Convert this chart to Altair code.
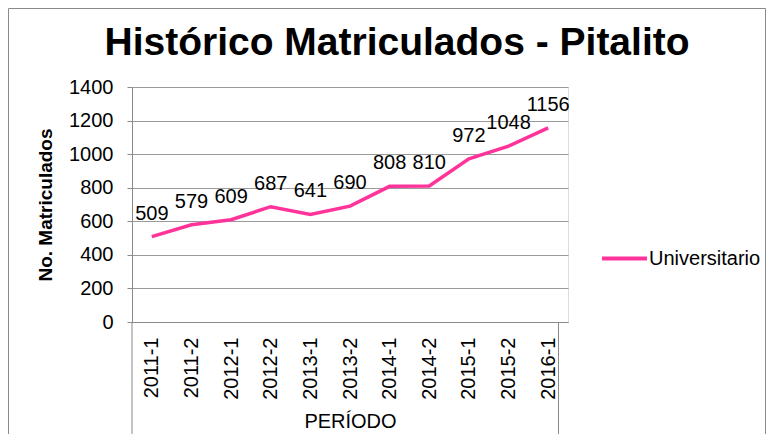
import altair as alt
import pandas as pd

periodos = ["2011-1", "2011-2", "2012-1", "2012-2", "2013-1", "2013-2",
            "2014-1", "2014-2", "2015-1", "2015-2", "2016-1"]
matriculados = [509, 579, 609, 687, 641, 690, 808, 810, 972, 1048, 1156]
serie = ["Universitario"] * len(periodos)
y_ticks = [0, 200, 400, 600, 800, 1000, 1200, 1400]
titulo = "Histórico Matriculados - Pitalito"

df = pd.DataFrame({"periodo": periodos, "valor": matriculados, "serie": serie})
one = pd.DataFrame({"k": [0]})

FONT = "Liberation Sans"
PINK = "#FF3399"
GRID = "#9a9a9a"
FRAME = "#8a8a8a"

x_enc = alt.X(
    "periodo:N", sort=periodos, title="PERÍODO",
    axis=alt.Axis(labelAngle=270, ticks=False, labelPadding=15, domainColor=FRAME,
                  labelFont=FONT, labelFontSize=20, labelColor="black",
                  labelOverlap=False,
                  titleFont=FONT, titleFontSize=20, titleFontWeight="normal",
                  titleColor="black", titlePadding=12, grid=False),
)
y_enc = alt.Y(
    "valor:Q", title="No. Matriculados",
    scale=alt.Scale(domain=[0, 1400], nice=False),
    axis=alt.Axis(values=y_ticks, format="d", labelOverlap=False,
                  grid=True, gridColor=GRID, domainColor=FRAME,
                  tickColor=FRAME, tickSize=5, labelPadding=14,
                  labelFont=FONT, labelFontSize=20, labelColor="black",
                  titleFont=FONT, titleFontSize=19, titleFontWeight="bold",
                  titleColor="black", titlePadding=13),
)

base = alt.Chart(df)

line = base.mark_line(strokeWidth=3.5).encode(
    x=x_enc, y=y_enc,
    color=alt.Color(
        "serie:N",
        scale=alt.Scale(domain=["Universitario"], range=[PINK]),
        legend=alt.Legend(orient="none", legendX=468, legendY=147, title=None,
                          symbolType="stroke", symbolSize=2025, symbolStrokeWidth=4,
                          labelFont=FONT, labelFontSize=20, labelColor="black",
                          labelOffset=0, padding=0),
    ),
)

labels = base.mark_text(font=FONT, fontSize=20, color="black", dy=-17,
                        baseline="alphabetic", align="center").encode(
    x=x_enc, y=y_enc, text="valor:Q"
)

title_mark = alt.Chart(one).mark_text(
    font=FONT, fontSize=39, fontWeight="bold", color="black",
    align="center", baseline="alphabetic",
).encode(x=alt.value(265), y=alt.value(-32), text=alt.value(titulo))

frame_left = alt.Chart(one).mark_rule(color=FRAME, strokeWidth=1).encode(
    x=alt.value(-123.5), y=alt.value(-78.5), y2=alt.value(347))
frame_top = alt.Chart(one).mark_rule(color=FRAME, strokeWidth=1).encode(
    x=alt.value(-123.5), x2=alt.value(633.5), y=alt.value(-78.5))
frame_right = alt.Chart(one).mark_rule(color=FRAME, strokeWidth=1).encode(
    x=alt.value(633.5), y=alt.value(-78.5), y2=alt.value(347))
cell_left = alt.Chart(one).mark_rule(color=FRAME, strokeWidth=1).encode(
    x=alt.value(0), y=alt.value(235), y2=alt.value(347))
cell_right = alt.Chart(one).mark_rule(color=FRAME, strokeWidth=1).encode(
    x=alt.value(426.5), y=alt.value(235), y2=alt.value(347))

chart = alt.layer(
    line, labels, title_mark, frame_left, frame_top, frame_right, cell_left, cell_right
).properties(
    width=436, height=235,
    autosize=alt.AutoSizeParams(type="none"),
    padding={"left": 124, "top": 79, "right": 198, "bottom": 112},
).configure_view(stroke=None).configure(background="white")

chart.save("out.html", embed_options={"renderer": "svg", "actions": False})
